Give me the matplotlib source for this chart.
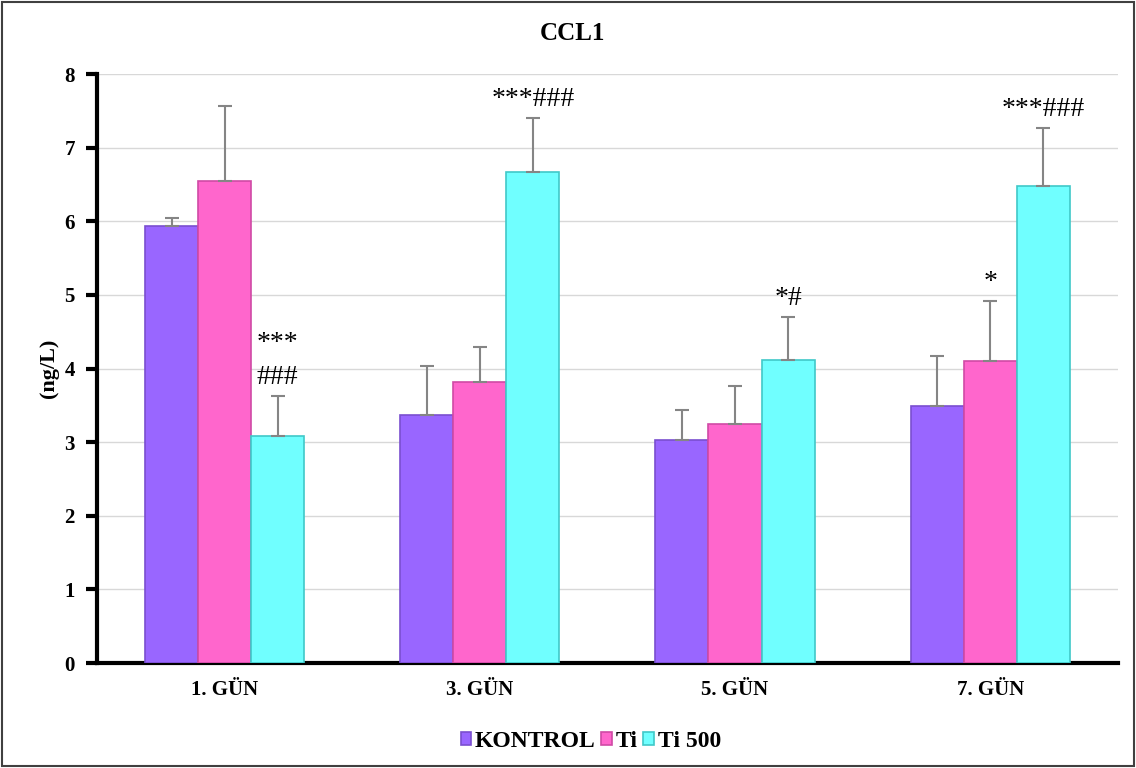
import matplotlib
matplotlib.use("Agg")
import matplotlib.pyplot as plt
import numpy as np
from matplotlib.patches import Rectangle

days = ["1. GÜN", "3. GÜN", "5. GÜN", "7. GÜN"]
series_names = ["KONTROL", "Ti", "Ti 500"]
kontrol = [5.94, 3.37, 3.03, 3.49]
ti = [6.55, 3.82, 3.25, 4.10]
ti500 = [3.08, 6.67, 4.12, 6.48]
kontrol_err = [0.11, 0.67, 0.41, 0.68]
ti_err = [1.02, 0.47, 0.51, 0.82]
ti500_err = [0.55, 0.73, 0.58, 0.79]

# significance marks: (day index, series index, text)
marks = [
    (0, 2, "***\n###"),
    (1, 2, "***###"),
    (2, 2, "*#"),
    (3, 1, "*"),
    (3, 2, "***###"),
]

colors = ["#9966FF", "#FF66CC", "#70FFFF"]
edges = ["#7a4fd0", "#d04aa5", "#40c8c8"]

plt.rcParams["font.family"] = ["Liberation Serif", "DejaVu Serif"]

fig = plt.figure(figsize=(11.36, 7.68), dpi=100)
ax = fig.add_axes([0.0854, 0.1367, 0.8986, 0.7669])

x = np.arange(len(days))
width = 0.208
values = [kontrol, ti, ti500]
errors = [kontrol_err, ti_err, ti500_err]
for i, (vals, errs) in enumerate(zip(values, errors)):
    pos = x + (i - 1) * width
    ax.bar(pos, vals, width=width, color=colors[i], edgecolor=edges[i],
           linewidth=1.2, label=series_names[i], zorder=3)
    ax.errorbar(pos, vals, yerr=[np.zeros(len(vals)), errs], fmt="none",
                ecolor="#858585", elinewidth=1.5, capsize=5, capthick=1.5, zorder=4)

for day, s, text in marks:
    pos = x[day] + (s - 1) * width
    top = values[s][day] + errors[s][day]
    ax.annotate(text, (pos, top), xytext=(0, 6), textcoords="offset pixels",
                ha="center", va="bottom", fontsize=20, linespacing=1.45)

ax.set_xlim(-0.5, 3.5)
ax.set_ylim(0, 8)
ax.set_yticks(range(0, 9))
ax.set_xticks(x)
ax.set_xticklabels(days, fontsize=15, fontweight="bold")
for lbl in ax.get_yticklabels():
    lbl.set_fontsize(15)
    lbl.set_fontweight("bold")
ax.set_ylabel("(ng/L)", fontsize=16, fontweight="bold", labelpad=4)
ax.grid(axis="y", color="#d8d8d8", linewidth=1, zorder=0)
ax.set_axisbelow(True)
for side in ["top", "right"]:
    ax.spines[side].set_visible(False)
ax.spines["left"].set_linewidth(3)
ax.spines["bottom"].set_linewidth(3)
ax.tick_params(axis="y", direction="out", length=8, width=3, pad=8)
ax.tick_params(axis="x", length=0, pad=12)

fig.text(0.504, 0.956, "CCL1", ha="center", va="center", fontsize=18, fontweight="bold")

leg = fig.legend(loc="center", bbox_to_anchor=(0.52, 0.035), ncol=3, frameon=False,
                 handlelength=0.45, handleheight=0.45, handletextpad=0.15, columnspacing=0.25,
                 prop={"size": 17, "weight": "bold"})

fig.patches.append(Rectangle((0.002, 0.003), 0.996, 0.994, transform=fig.transFigure,
                             fill=False, edgecolor="#404040", linewidth=1.5))

fig.savefig("out.png", dpi=100)
